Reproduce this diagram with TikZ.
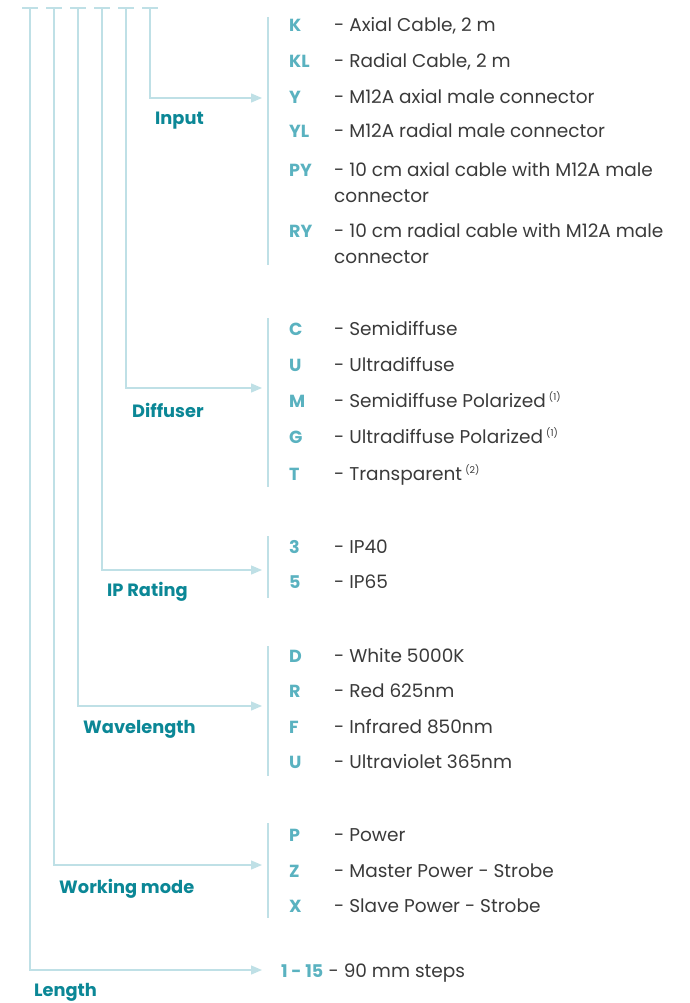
\documentclass[tikz,border=0pt]{standalone}
\usepackage{fontspec}
\setmainfont{Poppins}
\usetikzlibrary{arrows.meta}
\definecolor{linec}{HTML}{BFE0E6}
\definecolor{codec}{HTML}{5AB2C0}
\definecolor{labc}{HTML}{0B8796}
\definecolor{txtc}{HTML}{3A3A3A}
\tikzset{
  conn/.style={draw=linec, line width=1.3pt},
  arr/.style={conn, -{Triangle[length=11pt,width=9pt]}},
  code/.style={anchor=base west, inner sep=0pt, text=codec, font=\fontsize{17.5}{20}\selectfont\bfseries},
  desc/.style={anchor=base west, inner sep=0pt, text=txtc, font=\fontsize{18.5}{26}\selectfont, align=left},
  grp/.style={anchor=base west, inner sep=0pt, text=labc, font=\fontsize{17.8}{20}\selectfont\bfseries},
}
\newcommand{\fn}[1]{\textsuperscript{\fontsize{9.5}{9.5}\selectfont(#1)}}
\begin{document}
\begin{tikzpicture}[x=1pt,y=-1pt]
\useasboundingbox (0,0) rectangle (689,1003);
% ticks
\foreach \x in {30,54,78,102,126,150} \draw[conn] (\x-8,8) -- (\x+8,8);
% brackets
\draw[conn] (268,17) -- (268,265);
\draw[conn] (268,318) -- (268,487);
\draw[conn] (268,536) -- (268,598);
\draw[conn] (268,646) -- (268,776);
\draw[conn] (268,823) -- (268,918);
% group arrows
\coordinate (tI) at (150,8); \coordinate (bI) at (150,98); \coordinate (eI) at (262,98);
\coordinate (tD) at (126,8); \coordinate (bD) at (126,388); \coordinate (eD) at (262,388);
\coordinate (tP) at (102,8); \coordinate (bP) at (102,570); \coordinate (eP) at (262,570);
\coordinate (tW) at (78,8); \coordinate (bW) at (78,706); \coordinate (eW) at (262,706);
\coordinate (tM) at (54,8); \coordinate (bM) at (54,865); \coordinate (eM) at (262,865);
\coordinate (tL) at (30,8); \coordinate (bL) at (30,970); \coordinate (eL) at (262,970);
\draw[arr] (tI) -- (bI) -- (eI);
\draw[arr] (tD) -- (bD) -- (eD);
\draw[arr] (tP) -- (bP) -- (eP);
\draw[arr] (tW) -- (bW) -- (eW);
\draw[arr] (tM) -- (bM) -- (eM);
\draw[arr] (tL) -- (bL) -- (eL);
% group labels
\node[grp] (lI) at (155,125) {Input};
\node[grp] (lD) at (132,417) {Diffuser};
\node[grp] (lP) at (107,596) {IP Rating};
\node[grp] (lW) at (83,733) {Wavelength};
\node[grp] (lM) at (59,893) {Working mode};
\node[grp] (lL) at (34,996) {Length};
% entries
\foreach \c/\d/\y [count=\i] in {
  K/{- Axial Cable, 2 m}/25,
  KL/{- Radial Cable, 2 m}/61,
  Y/{- M12A axial male connector}/97,
  YL/{- M12A radial male connector}/131,
  C/{- Semidiffuse}/328,
  U/{- Ultradiffuse}/364,
  M/{- Semidiffuse Polarized\,\fn{1}}/400,
  G/{- Ultradiffuse Polarized\,\fn{1}}/436,
  T/{- Transparent\,\fn{2}}/473,
  3/{- IP40}/546,
  5/{- IP65}/581,
  D/{- White 5000K}/655,
  R/{- Red 625nm}/690,
  F/{- Infrared 850nm}/726,
  U/{- Ultraviolet 365nm}/761,
  P/{- Power}/834,
  Z/{- Master Power - Strobe}/870,
  X/{- Slave Power - Strobe}/905}
{
  \node[code] (c\i) at (289,\y+7) {\c};
  \node[desc] (d\i) at (334,\y+7) {\d};
}
% two-line entries (base anchor = last line)
\node[code] (cPY) at (289,176) {PY};
\node[desc] (dPY) at (334,202) {- 10 cm axial cable with M12A male\\connector};
\node[code] (cRY) at (289,237) {RY};
\node[desc] (dRY) at (334,263) {- 10 cm radial cable with M12A male\\connector};
% length
\node[code] (c21) at (281,977) {1 - 15};
\node[anchor=base west, inner sep=0pt, text=txtc, font=\fontsize{18.5}{22}\selectfont] (d21) at (c21.base east) {\ - 90 mm steps};
\end{tikzpicture}
\end{document}
